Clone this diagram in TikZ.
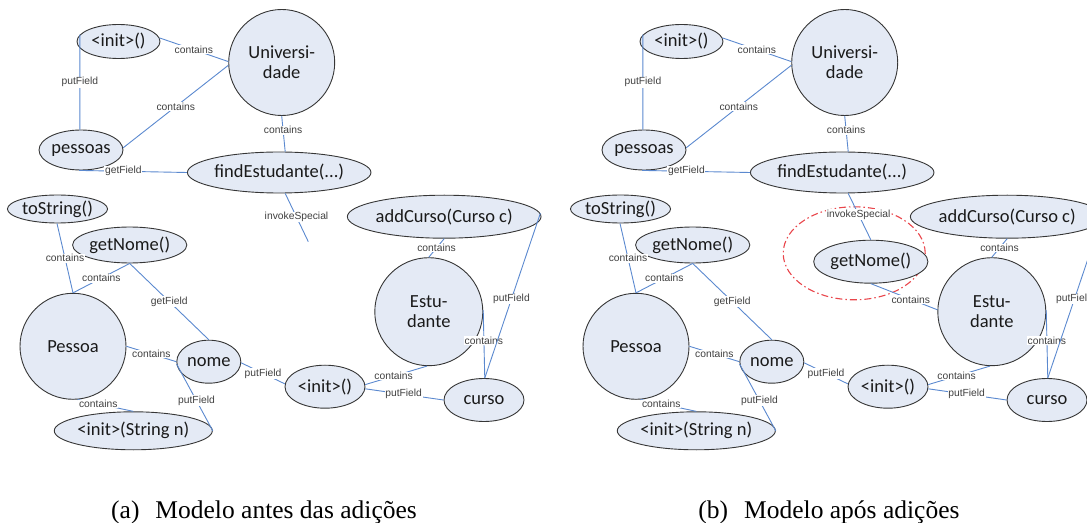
\documentclass[tikz,border=0pt]{standalone}
\usepackage{fontspec}
\setmainfont{Liberation Serif}
\newfontfamily\nodefont{Carlito}
\newfontfamily\labelfont{Liberation Sans}
\usetikzlibrary{shapes.geometric}

\definecolor{nodefill}{HTML}{E4EAF5}
\definecolor{nodeline}{HTML}{363636}
\definecolor{nodetext}{HTML}{1A1A1A}
\definecolor{edgeblue}{HTML}{5B89CF}
\definecolor{labeltext}{HTML}{404040}
\definecolor{marker}{HTML}{E9454B}

% Nodes shared by both versions of the model
\newcommand\modelnodes{%
  \node[mth, minimum width=83bp, minimum height=34bp] (initA) at (118.5,41.5) {<init>()};
  \node[cls, minimum size=106bp] (univ) at (281.7,62.5) {Universi-\\dade};
  \node[mth, minimum width=84bp, minimum height=40bp] (pessoas) at (81,150) {pessoas};
  \node[mth, minimum width=155bp, minimum height=41bp] (find) at (279.2,172.5) {findEstudante(...)};
  \node[mth, minimum width=98bp, minimum height=28bp] (tostr) at (57.5,209) {toString()};
  \node[mth, minimum width=106bp, minimum height=36bp] (getnome) at (129.7,245) {getNome()};
  \node[cls, minimum size=106bp] (pessoa) at (73,346.3) {Pessoa};
  \node[mth, minimum width=64bp, minimum height=43bp] (nome) at (208.8,361.7) {nome};
  \node[mth, minimum width=143bp, minimum height=38bp] (initS) at (133.3,430.8) {<init>(String n)};
  \node[mth, minimum width=80bp, minimum height=43bp] (initB) at (325,386.7) {<init>()};
  \node[mth, minimum width=175bp, minimum height=43bp] (addc) at (444.2,216.7) {addCurso(Curso c)};
  \node[cls, minimum size=108bp] (estud) at (428.8,311.7) {Estu-\\dante};
  \node[mth, minimum width=80bp, minimum height=43bp] (curso) at (484,400) {curso};
}

% Relations shared by both versions of the model
\newcommand\modeledges{%
  \draw[rel] (initA.5) -- node[lbl]{contains} (univ.179);
  \draw[rel] (initA.170) -- node[lbl]{putField} (pessoas.93);
  \draw[rel] (pessoas.3) -- node[lbl]{contains} (univ.183);
  \draw[rel] (univ.270) -- node[lbl,pos=.4]{contains} (find.74);
  \draw[rel] (pessoas.265) -- node[lbl,pos=.41]{getField} (find.180);
  \draw[rel] (tostr.268) -- node[lbl]{contains} (pessoa.90);
  \draw[rel] (getnome.270) -- node[lbl]{contains} (pessoa.90);
  \draw[rel] (getnome.270) -- node[lbl]{getField} (nome.90);
  \draw[rel] (pessoa.0) -- node[lbl]{contains} (nome.180);
  \draw[rel] (pessoa.275) -- node[lbl,pos=.37]{contains} (initS.90);
  \draw[rel] (nome.184) -- node[lbl,pos=.55]{putField} (initS.0);
  \draw[rel] (nome.358) -- node[lbl]{putField} (initB.176);
  \draw[rel] (addc.270) -- node[lbl]{contains} (estud.90);
  \draw[rel] (estud.2) -- node[lbl,pos=.45]{contains} (curso.88);
  \draw[rel] (addc.2) -- node[lbl,pos=.52]{putField} (curso.88);
  \draw[rel] (estud.268) -- node[lbl,pos=.54]{contains} (initB.3);
  \draw[rel] (initB.357) -- node[lbl,pos=.49]{putField} (curso.180);
}

\begin{document}
\begin{tikzpicture}[x=1bp, y=-1bp,
  base/.style={draw=nodeline, fill=nodefill, line width=0.9bp, inner sep=0pt,
    text=nodetext, align=center, font=\nodefont\fontsize{18.5bp}{20bp}\selectfont},
  cls/.style={base, circle},
  mth/.style={base, ellipse},
  rel/.style={draw=edgeblue, line width=0.9bp},
  lbl/.style={fill=white, inner sep=0.6bp, text=labeltext,
    font=\labelfont\fontsize{10.3bp}{12bp}\selectfont},
  ring/.style={ellipse, draw=marker, line width=1.1bp, inner sep=0pt,
    dash pattern=on 7bp off 3bp on 1.5bp off 3bp},
  caption/.style={anchor=base, inner sep=0pt, text=black,
    font=\fontsize{25.5bp}{30bp}\selectfont}]
\useasboundingbox (0,0) rectangle (1087,523);
\clip (0,0) rectangle (1087,523);

% (a) model before the additions
\begin{scope}[name prefix=a-]
  \modelnodes
  \coordinate (isEnd) at (308.3,241.7);
  \draw[rel] (find.286) -- node[lbl,pos=.49]{invokeSpecial} (isEnd);
  \modeledges
\end{scope}

% (b) model after the additions
\begin{scope}[xshift=563bp, name prefix=b-]
  \node[ring, minimum width=142bp, minimum height=93bp] (mark) at (291.2,253.3) {};
  \modelnodes
  \node[mth, minimum width=108bp, minimum height=43bp] (getnome2) at (307.8,261.7) {getNome()};
  \draw[rel] (find.286) -- node[lbl,pos=.46]{invokeSpecial} (getnome2.90);
  \draw[rel] (getnome2.270) -- node[lbl,pos=.6]{contains} (estud.178);
  \modeledges
\end{scope}

\node[caption] (capA) at (264,518) {(a)\hspace{16bp}Modelo antes das adições};
\node[caption] (capB) at (829,518) {(b)\hspace{16bp}Modelo após adições};
\end{tikzpicture}
\end{document}
